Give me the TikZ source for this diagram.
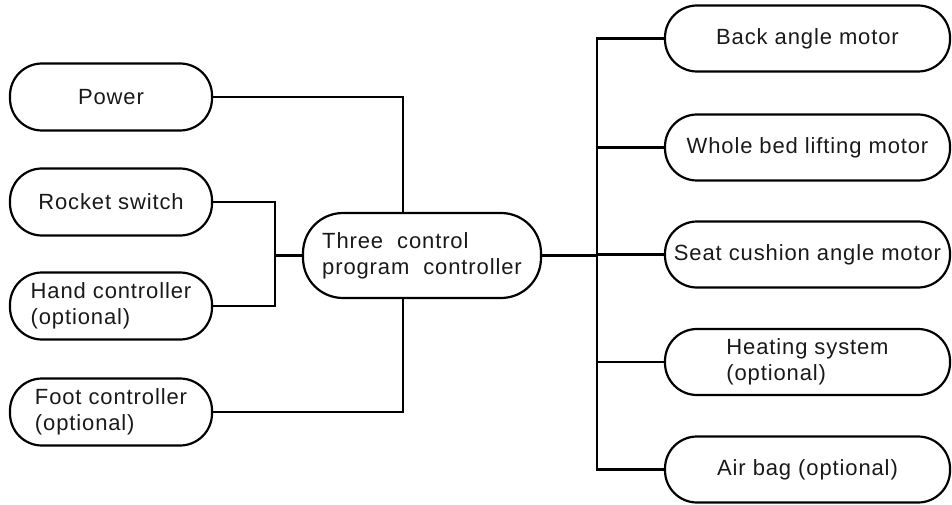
\documentclass[tikz,border=0pt]{standalone}
\usepackage{fontspec}
\setmainfont{Liberation Sans}[LetterSpace=4]
\usetikzlibrary{positioning}

\begin{document}
\begin{tikzpicture}
          [x=1pt, y=-1pt, line width=2.2pt,
           every node/.style={draw, rounded corners=32pt, align=left, inner sep=1pt,
             font=\fontsize{22}{26}\selectfont, text=black!90},
           input/.style={minimum width=202pt, minimum height=67pt},
           output/.style={minimum width=285pt, minimum height=66pt}]
          \useasboundingbox (0,0) rectangle (952,505);

          \node (ctrl) [minimum width=238pt, minimum height=85pt, rounded corners=40pt] at (422,255.5)
            {Three\ \ control\\program\ \ controller};

          \node (power) [input] at (111,97) {Power};
          \node (rocket) [input] at (111,202) {Rocket switch};
          \node (hand) [input] at (111,306) {Hand controller\\(optional)};
          \node (foot) [input] at (111,412) {Foot controller\\(optional)};

          \node (back) [output] at (807.5,38.5) {Back angle motor};
          \node (whole) [output] at (807.5,147.5) {Whole bed lifting motor};
          \node (seat) [output] at (807.5,254.5) {Seat cushion angle motor};
          \node (heat) [output] at (807.5,362) {Heating system\\(optional)};
          \node (airbag) [output] at (807.5,469.5) {Air bag (optional)};

          \coordinate (join) at (275,255.5);
          \coordinate (bus) at (597,255.5);

          \draw (power.east) -| ([xshift=-19pt]ctrl.north);
          \draw (foot.east) -| ([xshift=-19pt]ctrl.south);
          \draw (rocket.east) -| (join) |- (hand.east);
          \draw (join) -- (ctrl.west);

          \draw (ctrl.east) -- (bus);
          \draw (back.west) -| (bus |- airbag.west) -- (airbag.west);
          \foreach \n in {whole, seat, heat}
            \draw (bus |- \n.west) -- (\n.west);
        \end{tikzpicture}
\end{document}
